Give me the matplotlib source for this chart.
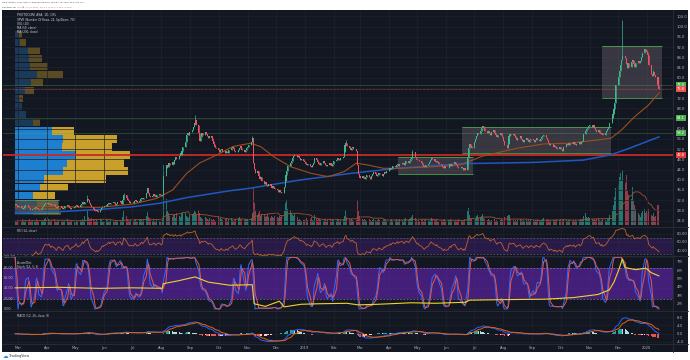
#!/usr/bin/env python3
import matplotlib

matplotlib.use("Agg")
import matplotlib.dates as mdates
import matplotlib.pyplot as plt
import numpy as np
import pandas as pd
from matplotlib.lines import Line2D
from matplotlib.patches import Rectangle

# ---- data ----
START = "2018-02-26"
FIRST_OPEN = 30.2

closes = (
    [30.4, 30.0, 29.6]  # 2018-02
    + [29.2, 29.6, 29.0, 28.6, 29.1, 29.7, 30.0, 29.4, 28.8, 28.3, 28.0, 28.6, 29.1, 29.5, 29.0, 28.5, 28.2, 28.7, 29.3, 29.8, 30.4, 30.9]
    + [30.6, 31.0, 30.5, 30.0, 30.4, 29.8, 29.3, 28.9, 29.4, 29.9, 29.3, 28.8, 28.6, 29.1, 29.6, 30.0, 29.5, 29.0, 28.6, 29.1, 29.5]
    + [29.9, 30.3, 29.8, 29.4, 30.0, 30.5, 31.1, 30.6, 31.4, 32.6, 32.0, 31.0, 30.1, 29.2, 28.5, 27.9, 27.6, 28.0, 27.5, 28.2, 28.9, 29.5, 29.2]
    + [29.6, 30.1, 30.6, 31.0, 30.5, 30.9, 31.3, 30.8, 30.3, 30.7, 31.2, 31.6, 31.1, 30.6, 32.0, 34.2, 32.9, 32.1, 31.5, 31.0, 31.4]
    + [31.0, 31.6, 32.2, 31.7, 31.2, 31.8, 32.5, 33.0, 32.4, 32.9, 35.0, 36.6, 34.8, 33.6, 33.1, 33.7, 34.3, 33.8, 33.2, 33.9, 34.5, 34.0]
    + [33.6, 34.2, 41.5, 44.6, 45.8, 45.0, 46.4, 45.6, 47.0, 46.2, 47.8, 48.9, 48.1, 49.5, 50.4, 49.6, 51.2, 52.9, 54.6, 57.4, 58.2, 57.6, 58.9]
    + [59.6, 60.8, 62.1, 63.4, 61.5, 58.2, 55.2, 56.9, 58.2, 57.5, 58.6, 57.9, 57.0, 56.2, 57.1, 56.3, 55.2, 54.1, 53.0, 52.4]
    + [51.6, 50.8, 51.5, 52.2, 51.0, 50.6, 51.4, 50.9, 50.5, 51.5, 52.4, 53.0, 52.2, 51.4, 50.7, 51.6, 52.5, 53.2, 52.6, 51.8, 50.9, 51.7, 52.4]
    + [52.8, 53.5, 54.8, 56.3, 46.4, 44.1, 42.5, 43.3, 41.6, 40.2, 41.0, 39.5, 38.4, 39.2, 38.1, 37.4, 38.3, 37.6, 36.9, 37.5, 36.6, 36.2]
    + [35.9, 35.4, 35.8, 35.1, 34.8, 37.2, 39.5, 41.8, 43.6, 45.2, 46.4, 47.5, 48.6, 49.4, 49.8, 48.9, 49.3, 48.4, 47.9, 48.3, 47.5]
    + [47.0, 46.3, 45.6, 46.2, 45.4, 44.9, 45.6, 46.5, 48.6, 47.8, 47.0, 46.2, 45.6, 46.4, 47.3, 46.5, 45.8, 45.2, 45.9, 46.6, 45.8, 45.3, 46.0]
    + [47.2, 47.9, 48.6, 48.1, 47.6, 48.4, 48.9, 50.8, 53.6, 54.5, 53.2, 52.4, 51.7, 52.3, 52.8, 52.0, 51.4, 45.6, 42.4, 41.6]
    + [40.8, 41.5, 40.6, 40.2, 41.1, 41.8, 41.0, 40.4, 41.3, 42.2, 42.9, 42.1, 41.4, 42.0, 42.8, 42.3, 41.6, 42.4, 43.1, 42.7, 43.5]
    + [43.9, 44.6, 44.1, 44.8, 45.4, 44.9, 45.6, 46.2, 45.5, 46.1, 46.7, 46.2, 45.8, 46.5, 47.2, 46.6, 47.4, 48.3, 49.1, 50.7, 49.0, 48.2]
    + [47.6, 47.9, 47.2, 46.4, 45.7, 45.1, 45.0, 45.6, 46.3, 47.1, 47.9, 48.5, 48.0, 47.3, 46.8, 47.4, 46.9, 46.3, 45.8, 45.1, 44.7, 45.2, 44.6]
    + [44.8, 45.4, 46.0, 45.5, 46.2, 46.8, 46.2, 45.6, 45.0, 44.5, 45.1, 44.6, 44.0, 44.5, 43.9, 48.5, 52.6, 54.0, 53.2, 52.6]
    + [54.6, 55.8, 57.3, 58.5, 58.0, 59.2, 60.1, 61.0, 60.2, 59.1, 58.4, 59.2, 58.5, 57.7, 58.6, 59.3, 58.4, 57.6, 56.8, 57.5, 58.2, 57.4, 56.6]
    + [55.2, 53.8, 52.4, 53.9, 57.2, 58.0, 57.4, 57.9, 57.2, 56.4, 55.6, 56.3, 57.0, 56.1, 55.3, 54.6, 55.4, 56.2, 55.5, 54.8, 55.6, 56.1]
    + [55.4, 54.9, 55.6, 56.2, 55.7, 55.2, 56.1, 56.6, 57.1, 57.4, 56.5, 55.4, 54.3, 53.6, 54.2, 53.5, 52.8, 53.4, 52.7, 52.2, 52.9]
    + [52.3, 51.9, 51.4, 52.8, 54.1, 53.6, 54.3, 53.8, 54.5, 53.9, 54.6, 54.0, 53.5, 54.2, 54.8, 54.1, 54.7, 55.3, 57.9, 59.1, 59.8, 60.4, 61.0]
    + [61.5, 60.6, 61.3, 60.4, 59.5, 58.7, 59.3, 58.4, 57.8, 58.5, 57.6, 58.3, 59.0, 59.7, 60.8, 62.4, 64.1, 65.8, 67.6, 70.1, 77.2]
    + [80.3, 82.6, 84.9, 86.8, 88.4, 87.6, 85.2, 83.6, 85.8, 84.3, 86.1, 87.0, 85.4, 84.2, 85.6, 86.5, 85.8, 86.4, 87.9, 89.6, 91.4, 90.8]
    + [90.2, 89.0, 85.0, 81.6, 80.8, 82.4, 80.9, 80.2, 77.3, 75.6]  # 2020-01
)

volumes = (
    [4, 3, 5]
    + [5, 4, 3, 6, 4, 3, 5, 4, 6, 3, 4, 5, 3, 4, 6, 5, 3, 4, 5, 4, 6, 7]
    + [8, 6, 5, 4, 5, 6, 4, 3, 4, 5, 3, 4, 5, 3, 4, 6, 4, 3, 5, 4, 3]
    + [4, 5, 3, 4, 5, 4, 6, 5, 9, 14, 8, 6, 5, 7, 6, 5, 4, 5, 4, 6, 5, 4, 3]
    + [4, 5, 4, 3, 4, 5, 4, 3, 5, 4, 3, 5, 4, 3, 8, 14, 9, 6, 5, 4, 5]
    + [4, 5, 6, 4, 3, 5, 6, 5, 4, 5, 9, 13, 8, 6, 5, 4, 5, 4, 3, 5, 4, 3]
    + [4, 5, 60, 26, 14, 10, 12, 9, 8, 10, 11, 7, 12, 9, 8, 10, 11, 13, 12, 9, 8, 7, 10]
    + [11, 12, 14, 13, 10, 15, 12, 8, 7, 6, 8, 7, 6, 5, 7, 6, 5, 6, 5, 4]
    + [9, 8, 7, 6, 5, 6, 7, 5, 4, 6, 7, 5, 4, 5, 6, 7, 8, 6, 5, 4, 5, 6, 5]
    + [6, 5, 7, 12, 38, 22, 15, 10, 12, 14, 9, 11, 10, 8, 9, 11, 8, 7, 9, 8, 7, 9]
    + [8, 7, 9, 8, 10, 14, 18, 22, 25, 16, 15, 12, 10, 9, 11, 8, 5, 6, 5, 4, 5]
    + [5, 6, 7, 5, 6, 8, 5, 4, 10, 7, 5, 6, 6, 5, 4, 6, 5, 4, 5, 6, 5, 4, 5]
    + [5, 4, 6, 5, 4, 5, 6, 9, 15, 12, 8, 6, 5, 6, 5, 4, 5, 25, 14, 9]
    + [7, 6, 5, 6, 5, 4, 6, 5, 4, 5, 6, 5, 4, 5, 6, 5, 4, 5, 6, 5, 4]
    + [5, 4, 5, 6, 4, 5, 6, 4, 5, 6, 5, 4, 5, 6, 7, 5, 6, 7, 8, 10, 7, 5]
    + [6, 5, 4, 5, 6, 4, 5, 6, 5, 4, 5, 7, 6, 5, 4, 5, 4, 3, 5, 4, 5, 6, 4]
    + [5, 4, 5, 6, 5, 4, 5, 4, 5, 6, 5, 4, 5, 4, 6, 14, 17, 10, 7, 6]
    + [8, 6, 9, 10, 7, 8, 9, 11, 7, 6, 5, 6, 5, 4, 5, 6, 5, 4, 5, 4, 5, 6, 5]
    + [6, 8, 9, 7, 10, 8, 6, 5, 4, 5, 4, 5, 6, 5, 4, 5, 4, 5, 4, 5, 4, 5]
    + [5, 4, 5, 4, 6, 5, 4, 5, 6, 7, 5, 6, 5, 4, 5, 4, 5, 4, 5, 6, 5]
    + [6, 7, 5, 6, 5, 4, 5, 4, 5, 4, 5, 4, 5, 4, 5, 6, 5, 6, 9, 12, 8, 7, 8]
    + [7, 6, 5, 6, 5, 6, 7, 5, 4, 5, 6, 5, 4, 6, 7, 10, 14, 16, 20, 28, 37]
    + [40, 48, 52, 45, 55, 42, 50, 34, 28, 30, 26, 38, 24, 20, 16, 12, 10, 8, 12, 14, 16, 12]
    + [14, 12, 16, 10, 9, 12, 8, 9, 20, 11]
)

spike_highs = {
    "2018-05-14": 34.0, "2018-06-22": 34.8, "2018-07-17": 36.9,
    "2018-09-06": 65.2, "2018-11-06": 57.2, "2019-02-14": 55.4,
    "2019-04-26": 51.5, "2019-12-06": 102.5, "2020-01-08": 83.0,
}

ma50_dates = ["2018-02-26", "2018-04-22", "2018-05-27", "2018-07-02", "2018-07-27", "2018-08-13",
              "2018-08-28", "2018-09-11", "2018-09-29", "2018-10-16", "2018-11-04", "2018-11-15",
              "2018-11-29", "2018-12-17", "2019-01-08", "2019-01-26", "2019-02-12", "2019-02-25",
              "2019-03-09", "2019-03-26", "2019-04-13", "2019-05-18", "2019-06-16", "2019-07-10",
              "2019-08-15", "2019-09-12", "2019-10-09", "2019-11-03", "2019-11-24", "2019-12-05",
              "2019-12-19", "2020-01-03", "2020-01-14"]
ma50_vals = [29.3, 29.4, 29.2, 30.5, 32.7, 36.0, 42.5, 46.6, 49.7, 53.0, 54.3, 53.0,
             49.0, 45.1, 42.5, 41.2, 43.2, 46.5, 45.8, 44.5, 44.5, 45.1, 45.8, 49.3,
             52.3, 54.0, 54.3, 55.3, 56.3, 59.5, 64.7, 69.3, 74.0]

ma200_dates = ["2018-02-26", "2018-04-14", "2018-05-27", "2018-07-01", "2018-07-30", "2018-08-28",
               "2018-10-13", "2018-11-04", "2018-12-27", "2019-02-19", "2019-04-10", "2019-06-16",
               "2019-09-02", "2019-10-25", "2019-11-23", "2019-12-11", "2020-01-14"]
ma200_vals = [26.9, 27.5, 28.4, 29.4, 30.8, 33.0, 35.7, 36.7, 39.9, 42.5, 44.5, 46.3,
              46.8, 47.7, 49.7, 52.0, 56.8]

ad_dates = ["2018-02-26", "2018-04-14", "2018-05-27", "2018-07-01", "2018-08-02", "2018-08-03",
            "2018-08-20", "2018-09-06", "2018-09-20", "2018-10-13", "2018-11-06", "2018-11-08",
            "2018-11-20", "2018-12-05", "2018-12-10", "2018-12-28", "2019-01-15", "2019-02-15",
            "2019-02-27", "2019-03-20", "2019-04-25", "2019-05-20", "2019-06-21", "2019-06-26",
            "2019-08-01", "2019-09-15", "2019-10-15", "2019-11-10", "2019-11-22", "2019-11-27",
            "2019-12-02", "2019-12-06", "2019-12-09", "2019-12-20", "2019-12-31", "2020-01-06",
            "2020-01-14"]
ad_vals = [3.89, 3.95, 3.83, 3.89, 3.83, 4.38, 4.75, 5.19, 4.57, 4.20, 4.26, 1.99,
           1.68, 2.30, 1.62, 1.93, 1.99, 2.05, 1.86, 1.93, 2.11, 2.05, 2.17, 2.42,
           2.48, 2.54, 2.73, 3.10, 3.64, 4.57, 5.99, 7.33, 6.30, 6.05, 6.23, 5.68, 5.31]

# volume profile rows (bottom to top)
vp_prices = [27.65, 30.8, 33.95, 37.1, 40.25, 43.4, 46.55, 49.7, 52.85, 56.0, 59.15, 62.3,
             65.45, 68.6, 71.75, 74.9, 78.05, 81.2, 84.35, 87.5, 90.65, 93.8, 96.95]
vp_up = [18, 22, 18, 25, 29, 48, 52, 61, 47, 48, 37, 18, 11, 7, 4, 10, 16, 22, 15, 14, 13, 5, 3]
vp_down = [28, 21, 22, 28, 62, 65, 57, 54, 50, 54, 22, 7, 0, 0, 4, 9, 12, 26, 18, 13, 12, 6, 4]
vp_value_area = (2, 10)

green_levels = [77.0, 64.1, 58.2]
red_level = 49.8

box_starts = ["2018-02-26", "2019-04-10", "2019-06-18", "2019-11-14"]
box_ends = ["2018-04-14", "2019-06-30", "2019-11-24", "2020-01-17"]
box_lows = [26.9, 42.3, 50.5, 72.0]
box_highs = [32.0, 48.9, 60.7, 92.4]

# ---- style ----
FIG_W, FIG_H = 690, 360
PANE_L, PANE_R = 3, 673
BG = "#131722"
GRID = "#1e222d"
SEP = "#2a2e39"
TXT = "#b2b5be"
UP = "#3fb68b"
DOWN = "#f0525f"
LEVEL_GREEN = "#4caf50"


def fx(px):
    return px / FIG_W


def fy(py):
    return 1 - py / FIG_H


def pane_rect(top, bottom):
    return [fx(PANE_L), fy(bottom), (PANE_R - PANE_L) / FIG_W, (bottom - top) / FIG_H]


def dnum(values):
    return mdates.date2num(pd.to_datetime(values).to_pydatetime())


def style_pane(ax, grid=True):
    ax.set_facecolor("none")
    for spine in ax.spines.values():
        spine.set_visible(False)
    ax.yaxis.tick_right()
    ax.tick_params(length=0, labelsize=2.7, labelcolor=TXT, pad=2.5, labelbottom=False)
    if grid:
        ax.grid(True, color=GRID, lw=0.5)
        ax.set_axisbelow(True)


def main():
    if len(volumes) != len(closes):
        raise ValueError(f"closes={len(closes)} volumes={len(volumes)}")

    dates = pd.bdate_range(START, periods=len(closes))
    x = mdates.date2num(dates.to_pydatetime())
    c = np.array(closes, dtype=float)
    o = np.r_[FIRST_OPEN, c[:-1]]
    hi = np.maximum(o, c)
    lo = np.minimum(o, c)
    for day, value in spike_highs.items():
        idx = dates.get_indexer([pd.Timestamp(day)])[0]
        if idx >= 0:
            hi[idx] = max(hi[idx], value)
    rising = c >= o
    colors = np.where(rising, UP, DOWN)

    close_s = pd.Series(c)
    vol_s = pd.Series(volumes, dtype=float)
    vol_ma = vol_s.rolling(20, min_periods=1).mean()

    delta = close_s.diff()
    gain = delta.clip(lower=0).ewm(alpha=1 / 14, adjust=False).mean()
    loss = (-delta.clip(upper=0)).ewm(alpha=1 / 14, adjust=False).mean()
    rsi = 100 - 100 / (1 + gain / loss.replace(0, np.nan))

    hh = pd.Series(hi).rolling(14, min_periods=1).max()
    ll = pd.Series(lo).rolling(14, min_periods=1).min()
    k_raw = 100 * (close_s - ll) / (hh - ll).replace(0, np.nan)
    stoch_k = k_raw.rolling(3, min_periods=1).mean()
    stoch_d = stoch_k.rolling(3, min_periods=1).mean()

    ema12 = close_s.ewm(span=12, adjust=False).mean()
    ema26 = close_s.ewm(span=26, adjust=False).mean()
    macd = ema12 - ema26
    signal = macd.ewm(span=9, adjust=False).mean()
    hist = (macd - signal).to_numpy()
    hist_prev = np.r_[0.0, hist[:-1]]
    hist_colors = np.where(
        hist >= 0,
        np.where(hist >= hist_prev, "#26a69a", "#b2dfdb"),
        np.where(hist <= hist_prev, "#ef5350", "#ffcdd2"),
    )

    x_left, x_right = dnum(["2018-02-13", "2020-01-29"])
    months = pd.date_range("2018-03-01", "2020-02-01", freq="MS")
    month_x = dnum(months)
    month_labels = [str(m.year) if m.month == 1 else m.strftime("%b") for m in months]

    fig = plt.figure(figsize=(FIG_W / 100, FIG_H / 100), dpi=100, facecolor="white")
    fig.patches.append(Rectangle((fx(2), fy(352)), fx(688) - fx(2), (352 - 10) / FIG_H,
                                 transform=fig.transFigure, facecolor=BG, edgecolor="none", zorder=-5))

    # ---- main pane: volume, profile, candles ----
    ax_vol = fig.add_axes(pane_rect(10, 227))
    ax = fig.add_axes(pane_rect(10, 227), sharex=ax_vol)
    ax_vp = fig.add_axes(pane_rect(10, 227), sharey=ax)
    ax_vol.set_zorder(1)
    ax_vp.set_zorder(2)
    ax.set_zorder(3)

    vol_colors = np.where(rising, "#22786e", "#94394a")
    ax_vol.bar(x, volumes, width=1.1, color=vol_colors, linewidth=0)
    ax_vol.plot(x, vol_ma, color="#a0522d", lw=0.6)
    ax_vol.set_ylim(-2, 215)
    ax_vol.set_xlim(x_left, x_right)
    ax_vol.set_axis_off()

    va_lo, va_hi = vp_value_area
    in_va = [va_lo <= i <= va_hi for i in range(len(vp_prices))]
    blue = ["#1e7fd1" if f else "#1b3a5a" for f in in_va]
    gold = ["#c9a02c" if f else "#5b4b23" for f in in_va]
    ax_vp.barh(vp_prices, vp_up, height=2.85, color=blue, linewidth=0)
    ax_vp.barh(vp_prices, vp_down, left=vp_up, height=2.85, color=gold, linewidth=0)
    ax_vp.set_xlim(-12, 658)
    ax_vp.set_axis_off()

    style_pane(ax)
    ax.set_ylim(21.5, 106.5)
    price_ticks = np.arange(24, 105, 4)
    ax.set_yticks(price_ticks)
    ax.set_yticklabels([f"{v:.1f}" for v in price_ticks])

    for s, e, lo_b, hi_b in zip(box_starts, box_ends, box_lows, box_highs):
        xs, xe = dnum([s, e])
        ax.add_patch(Rectangle((xs, lo_b), xe - xs, hi_b - lo_b, facecolor="#8e7f86",
                               alpha=0.3, edgecolor="none", zorder=1))
        ax.hlines([lo_b, hi_b], xs, xe, color=LEVEL_GREEN, lw=0.7, alpha=0.8, zorder=1.5)

    for lvl in green_levels:
        ax.axhline(lvl, color=LEVEL_GREEN, lw=0.5, alpha=0.45, zorder=1.2)
    ax.axhline(red_level, color="#c62828", lw=1.3, zorder=1.3)
    ax.axhline(c[-1], color="#ef5350", lw=0.5, ls=(0, (1, 1)), alpha=0.8, zorder=1.3)

    ax.plot(dnum(ma200_dates), ma200_vals, color="#2157c0", lw=1.1, zorder=2)
    ax.plot(dnum(ma50_dates), ma50_vals, color="#9a4f1e", lw=0.8, zorder=2)

    ax.vlines(x, lo, hi, colors=colors, lw=0.5, zorder=3)
    ax.bar(x, np.maximum(np.abs(c - o), 0.15), bottom=np.minimum(o, c),
           width=1.15, color=colors, linewidth=0, zorder=4)

    tag_font = dict(fontsize=2.6, color="white", va="center", ha="left", zorder=10,
                    transform=ax.get_yaxis_transform(), clip_on=False)
    for lvl in green_levels:
        ax.text(1.006, lvl, f"{lvl:.1f}", bbox=dict(boxstyle="square,pad=0.25", fc="#4caf50", ec="none"), **tag_font)
    ax.text(1.006, c[-1], f"{c[-1]:.1f}", bbox=dict(boxstyle="square,pad=0.25", fc="#ef5350", ec="none"), **tag_font)
    ax.text(1.006, red_level, f"{red_level:.1f}", bbox=dict(boxstyle="square,pad=0.25", fc="#e53935", ec="none"), **tag_font)

    # ---- RSI ----
    ax_rsi = fig.add_axes(pane_rect(227, 256), sharex=ax_vol)
    style_pane(ax_rsi)
    ax_rsi.axhspan(30, 70, color="#7828dc", alpha=0.2, lw=0)
    for lvl in (30, 70):
        ax_rsi.axhline(lvl, color="#787b86", lw=0.4, ls=(0, (3, 3)))
    ax_rsi.plot(x, rsi, color="#c0622f", lw=0.6)
    ax_rsi.set_ylim(26, 96)
    ax_rsi.set_yticks([40, 60, 80])
    ax_rsi.set_yticklabels(["40.00", "60.00", "80.00"])

    # ---- Stoch + Accum/Dist ----
    ax_st = fig.add_axes(pane_rect(256, 311), sharex=ax_vol)
    style_pane(ax_st)
    ax_st.axhspan(20, 80, color="#7828dc", alpha=0.48, lw=0)
    for lvl in (20, 80):
        ax_st.axhline(lvl, color="#9598a1", lw=0.4, ls=(0, (3, 3)))
    ax_st.plot(x, stoch_k, color="#2f6bff", lw=0.7)
    ax_st.plot(x, stoch_d, color="#e4574a", lw=0.7)
    ax_st.set_ylim(-3.9, 102.5)
    ax_st.set_yticks([0, 20, 40, 60, 80, 100])
    ax_st.tick_params(labelright=False)
    for v in (0, 20, 40, 60, 80, 100):
        ax_st.text(0.001, v, f"{v:.2f}", transform=ax_st.get_yaxis_transform(), fontsize=2.4,
                   color=TXT, va="center", ha="left")
    ax_ad = ax_st.twinx()
    style_pane(ax_ad, grid=False)
    ax_ad.plot(dnum(ad_dates), ad_vals, color="#f2d22e", lw=0.8)
    ax_ad.set_ylim(1.13, 7.68)
    ax_ad.set_yticks([2, 3, 4, 5, 6, 7])
    ax_ad.set_yticklabels([f"{v}M" for v in (2, 3, 4, 5, 6, 7)])

    # ---- MACD ----
    ax_m = fig.add_axes(pane_rect(311, 344), sharex=ax_vol)
    style_pane(ax_m)
    ax_m.bar(x, hist, width=1.15, color=hist_colors, linewidth=0)
    ax_m.plot(x, macd, color="#2962ff", lw=0.7)
    ax_m.plot(x, signal, color="#e8630a", lw=0.7)
    ax_m.set_ylim(-5, 11)
    ax_m.set_yticks([-4, 0, 4, 8])
    ax_m.set_yticklabels(["-4.0", "0.0", "4.0", "8.0"])
    ax_m.set_xticks(month_x)
    ax_m.set_xticklabels(month_labels)
    ax_m.tick_params(axis="x", labelbottom=True, pad=1.2, labelsize=2.6)
    ax_m.set_xlim(x_left, x_right)

    # ---- separators and captions ----
    for py in (227, 256, 311, 344):
        fig.add_artist(Line2D([fx(2), fx(688)], [fy(py), fy(py)], color=SEP, lw=0.6))
    fig.add_artist(Line2D([fx(PANE_R), fx(PANE_R)], [fy(10), fy(352)], color=SEP, lw=0.6))

    cap = dict(color="#d1d4dc", va="center", ha="left")
    fig.text(fx(17), fy(15), "PHOTOCURE ASA, 1D, OSL", fontsize=2.2, **cap)
    fig.text(fx(17), fy(19.5), "VPVR (Number Of Rows, 24, Up/Down, 70)", fontsize=2.0, **cap)
    fig.text(fx(17), fy(24), "VOL (20)", fontsize=2.0, **cap)
    fig.text(fx(17), fy(28), "MA (50, close)", fontsize=2.0, **cap)
    fig.text(fx(17), fy(32.3), "MA (200, close)", fontsize=2.0, **cap)
    fig.text(fx(17), fy(231), "RSI (14, close)", fontsize=2.0, **cap)
    fig.text(fx(17), fy(263), "Accum/Dist", fontsize=2.0, **cap)
    fig.text(fx(17), fy(267.5), "Stoch (14, 3, 3)", fontsize=2.0, **cap)
    fig.text(fx(17), fy(316), "MACD (12, 26, close, 9)", fontsize=2.0, **cap)

    fig.text(fx(2), fy(2.8), "www.tgtrader published on TradingView.com, January 15, 2020 13:34:00 UTC",
             fontsize=1.5, color="#444444", va="center")
    fig.text(fx(2), fy(7.2), "OSL:PHO, 1D", fontsize=1.5, color="#222222", va="center")
    fig.text(fx(17), fy(7.2), f"{c[-1]:.1f} \u25bc -1.7 (-2.20%)  O:77.3  H:77.9  L:75.2  C:{c[-1]:.1f}",
             fontsize=1.5, color="#e53935", va="center")

    fig.text(fx(3), fy(356.5), "\u2601", fontsize=4, color="#2196f3", va="center")
    fig.text(fx(9), fy(356.5), "TradingView", fontsize=2.4, color="#333333", va="center")

    fig.savefig("out.png", dpi=100, facecolor="white")
    plt.close(fig)


if __name__ == "__main__":
    main()
